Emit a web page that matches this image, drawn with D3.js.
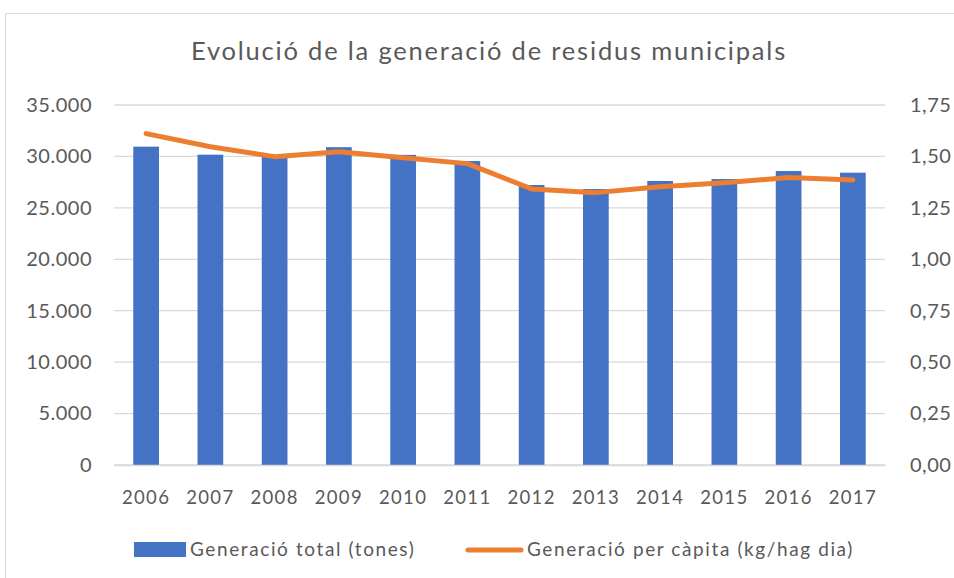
<!DOCTYPE html>
<html><head><meta charset="utf-8">
<script src="https://cdn.jsdelivr.net/npm/d3@7"></script>
<style>
html,body{margin:0;padding:0;background:#fff;}
svg text{font-family:Lato,"Open Sans",sans-serif;}
</style></head>
<body><svg id="c" width="954" height="578"></svg>
<script>
const categories = ["2006","2007","2008","2009","2010","2011","2012","2013","2014","2015","2016","2017"];
const totalTones = [30950,30170,29950,30900,30150,29550,27220,26830,27610,27800,28580,28420];
const perCapita = [1.611,1.547,1.499,1.523,1.494,1.465,1.342,1.324,1.353,1.372,1.397,1.386];
const leftTicks = [0,5000,10000,15000,20000,25000,30000,35000];
const rightTicks = [0,0.25,0.5,0.75,1.0,1.25,1.5,1.75];
const title = "Evolució de la generació de residus municipals";
const seriesNames = ["Generació total (tones)","Generació per càpita (kg/hag dia)"];

(function(){
const svg = d3.select("#c");
const pL = 114, pR = 885, pT = 105, pB = 465;
const x = d3.scaleBand().domain(categories).range([pL,pR]).paddingInner(0.6).paddingOuter(0.3);
const yL = d3.scaleLinear().domain([0,35000]).range([pB,pT]);
const yR = d3.scaleLinear().domain([0,1.75]).range([pB,pT]);
const fmtL = d => d===0 ? "0" : d3.format(",")(d).replace(/,/g,".");
const fmtR = d => d.toFixed(2).replace(".",",");
const txt = "#595959";

svg.append("rect").attr("x",5.5).attr("y",13.5).attr("width",960).attr("height",600)
  .attr("fill","#fff").attr("stroke","#d9d9d9");

svg.append("text").attr("x",489).attr("y",60).attr("text-anchor","middle")
  .attr("font-size",25.5).attr("letter-spacing",1.8).attr("fill",txt).text(title);

svg.append("g").selectAll("line").data(leftTicks).join("line")
  .attr("x1",pL).attr("x2",pR).attr("y1",d=>yL(d)).attr("y2",d=>yL(d))
  .attr("stroke","#d9d9d9").attr("stroke-width",1.3);

const gL = svg.append("g").attr("transform",`translate(${pL},0)`)
  .call(d3.axisLeft(yL).tickValues(leftTicks).tickFormat(fmtL).tickSize(0).tickPadding(22));
gL.select(".domain").remove();
gL.selectAll("text").attr("font-size",20).attr("letter-spacing",0.5).attr("fill",txt).attr("font-family","Lato,sans-serif");

const gR = svg.append("g").attr("transform",`translate(${pR},0)`)
  .call(d3.axisRight(yR).tickValues(rightTicks).tickFormat(fmtR).tickSize(0).tickPadding(25));
gR.select(".domain").remove();
gR.selectAll("text").attr("font-size",20).attr("letter-spacing",0.5).attr("fill",txt).attr("font-family","Lato,sans-serif");

svg.append("g").selectAll("rect").data(categories).join("rect")
  .attr("x",d=>x(d)).attr("width",x.bandwidth())
  .attr("y",(d,i)=>yL(totalTones[i])).attr("height",(d,i)=>pB-yL(totalTones[i]))
  .attr("fill","#4472C4");

const gX = svg.append("g").attr("transform",`translate(0,${pB})`)
  .call(d3.axisBottom(x).tickSize(0).tickPadding(0));
gX.select(".domain").attr("stroke","#d9d9d9").attr("stroke-width",1.3);
gX.selectAll("text").attr("dy",null).attr("y",39).attr("font-size",18.5).attr("letter-spacing",1.3)
  .attr("fill",txt).attr("font-family","Lato,sans-serif");

const line = d3.line().x((d,i)=>x(categories[i])+x.bandwidth()/2).y(d=>yR(d));
svg.append("path").datum(perCapita).attr("d",line).attr("fill","none")
  .attr("stroke","#ED7D31").attr("stroke-width",5).attr("stroke-linecap","round").attr("stroke-linejoin","round");

const lg = svg.append("g");
lg.append("rect").attr("x",134).attr("y",542).attr("width",52).attr("height",15).attr("fill","#4472C4");
lg.append("text").attr("x",190).attr("y",556).attr("font-size",19).attr("letter-spacing",1.6).attr("fill",txt).text(seriesNames[0]);
lg.append("line").attr("x1",468).attr("x2",521).attr("y1",550).attr("y2",550)
  .attr("stroke","#ED7D31").attr("stroke-width",5).attr("stroke-linecap","round");
lg.append("text").attr("x",527).attr("y",556).attr("font-size",19).attr("letter-spacing",1.6).attr("fill",txt).text(seriesNames[1]);
})();
</script></body></html>
